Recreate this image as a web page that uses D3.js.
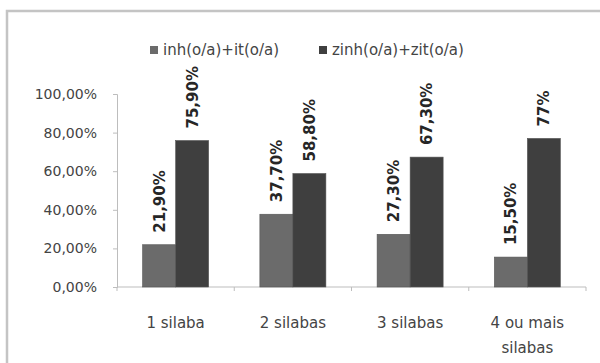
<!DOCTYPE html>
<html>
<head>
<meta charset="utf-8">
<script src="https://cdn.jsdelivr.net/npm/d3@7"></script>
<style>
  html, body { margin: 0; padding: 0; background: #fff; }
  svg { display: block; }
  text { font-family: "DejaVu Sans", "Liberation Sans", sans-serif; }
</style>
</head>
<body>
<svg id="chart" width="600" height="363"></svg>
<script>
// Categories (syllable counts) and the two suffix series, in percent
const categories = ["1 silaba", "2 silabas", "3 silabas", "4 ou mais silabas"];
const seriesNames = ["inh(o/a)+it(o/a)", "zinh(o/a)+zit(o/a)"];
const inhValues = [21.9, 37.7, 27.3, 15.5];
const zinhValues = [75.9, 58.8, 67.3, 77];
const valueLabels = [["21,90%", "37,70%", "27,30%", "15,50%"], ["75,90%", "58,80%", "67,30%", "77%"]];
const yTicks = [0, 20, 40, 60, 80, 100];
const seriesColors = ["#6b6b6b", "#3f3f3f"];

const svg = d3.select("#chart");

// Outer chart-area frame (runs off the right and bottom edges)
svg.append("rect")
  .attr("x", 7).attr("y", 11)
  .attr("width", 620).attr("height", 380)
  .attr("fill", "#fff")
  .attr("stroke", "#c4c4c4")
  .attr("stroke-width", 2.5);

const plot = { left: 117, right: 586, top: 94, bottom: 287 };

const x0 = d3.scaleBand()
  .domain(categories)
  .range([plot.left, plot.right])
  .paddingInner(0.437)
  .paddingOuter(0.2185);

const x1 = d3.scaleBand()
  .domain([0, 1])
  .range([0, x0.bandwidth()]);

const y = d3.scaleLinear().domain([0, 100]).range([plot.bottom, plot.top]);

const fmtTick = d => d3.format(".2f")(d).replace(".", ",") + "%";

// Y axis
const yAxis = svg.append("g")
  .attr("transform", `translate(${plot.left},0)`)
  .call(d3.axisLeft(y).tickValues(yTicks).tickFormat(fmtTick).tickSize(4).tickPadding(16));
yAxis.select(".domain").attr("stroke", "#bdbdbd");
yAxis.selectAll(".tick line").attr("stroke", "#bdbdbd");
yAxis.selectAll(".tick text")
  .attr("font-family", "DejaVu Sans")
  .attr("font-size", 14)
  .attr("fill", "#444");

// X axis line with ticks at band boundaries
const xAxisG = svg.append("g").attr("transform", `translate(0,${plot.bottom})`);
xAxisG.append("line")
  .attr("x1", plot.left).attr("x2", plot.right)
  .attr("stroke", "#bdbdbd");
const step = x0.step();
const boundaries = d3.range(categories.length + 1).map(i => plot.left + i * step);
xAxisG.selectAll(".bt").data(boundaries).join("line")
  .attr("class", "bt")
  .attr("x1", d => d).attr("x2", d => d)
  .attr("y1", 0).attr("y2", 4)
  .attr("stroke", "#bdbdbd");

// Category labels (last one wraps to two lines)
const catLines = [["1 silaba"], ["2 silabas"], ["3 silabas"], ["4 ou mais", "silabas"]];
categories.forEach((c, i) => {
  const cx = x0(c) + x0.bandwidth() / 2;
  const t = svg.append("text")
    .attr("x", cx)
    .attr("y", 328)
    .attr("text-anchor", "middle")
    .attr("font-size", 15)
    .attr("fill", "#444");
  catLines[i].forEach((ln, j) => {
    t.append("tspan")
      .attr("x", cx)
      .attr("dy", j === 0 ? 0 : 25)
      .text(ln);
  });
});

// Bars
const series = [inhValues, zinhValues];
series.forEach((vals, s) => {
  const g = svg.append("g");
  g.selectAll("rect").data(vals).join("rect")
    .attr("x", (d, i) => x0(categories[i]) + x1(s))
    .attr("y", d => y(d))
    .attr("width", x1.bandwidth())
    .attr("height", d => plot.bottom - y(d))
    .attr("fill", seriesColors[s])
    .attr("stroke", "#555")
    .attr("stroke-width", 0.6);

  // Rotated value labels above each bar
  g.selectAll("text").data(vals).join("text")
    .attr("transform", (d, i) => {
      const cx = x0(categories[i]) + x1(s) + x1.bandwidth() / 2;
      return `translate(${cx + 5.5},${y(d) - 12}) rotate(-90)`;
    })
    .attr("font-size", 15)
    .attr("font-weight", "bold")
    .attr("fill", "#262626")
    .text((d, i) => valueLabels[s][i]);
});

// Legend
const legendItems = [{ x: 150, name: seriesNames[0] }, { x: 319, name: seriesNames[1] }];
legendItems.forEach((it, i) => {
  svg.append("rect")
    .attr("x", it.x).attr("y", 46)
    .attr("width", 8).attr("height", 8)
    .attr("fill", seriesColors[i]);
  svg.append("text")
    .attr("x", it.x + 13).attr("y", 55)
    .attr("font-size", 15)
    .attr("fill", "#444")
    .text(it.name);
});
</script>
</body>
</html>
